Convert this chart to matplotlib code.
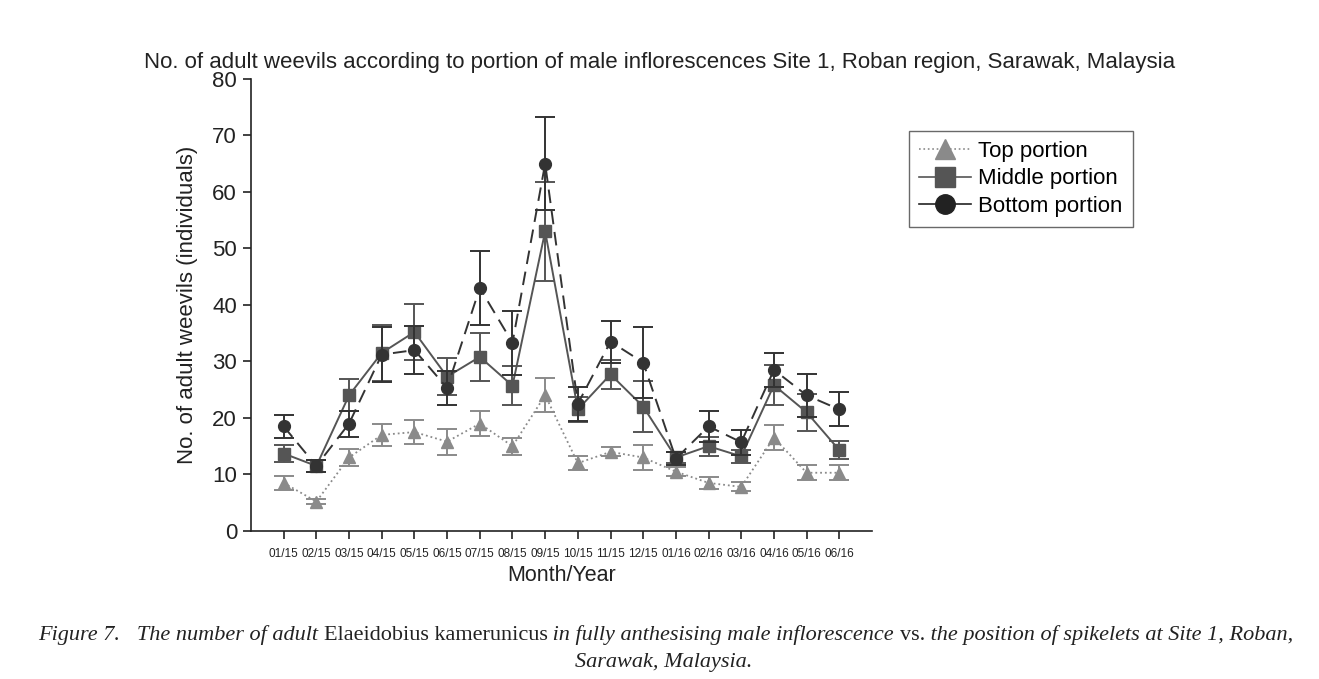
import numpy as np
import matplotlib
matplotlib.use("Agg")
from matplotlib import pyplot as plt
from matplotlib.lines import Line2D

months = ['01/15', '02/15', '03/15', '04/15', '05/15', '06/15', '07/15', '08/15', '09/15',
          '10/15', '11/15', '12/15', '01/16', '02/16', '03/16', '04/16', '05/16', '06/16']

top = [8.5, 5.2, 13.0, 17.0, 17.5, 15.8, 19.0, 15.0, 24.0, 12.0, 14.0, 13.0, 10.5, 8.5, 7.8, 16.5, 10.3, 10.3]
top_err = [1.2, 0.5, 1.5, 2.0, 2.2, 2.3, 2.2, 1.5, 3.0, 1.3, 0.8, 2.2, 0.8, 1.0, 0.8, 2.2, 1.3, 1.3]

middle = [13.7, 11.5, 24.0, 31.5, 35.2, 27.3, 30.8, 25.7, 53.0, 21.5, 27.7, 22.0, 13.0, 15.0, 13.2, 25.8, 21.0, 14.3]
middle_err = [1.5, 1.0, 2.8, 5.0, 5.0, 3.3, 4.2, 3.5, 8.8, 2.2, 2.5, 4.5, 1.0, 1.7, 1.2, 3.5, 3.3, 1.6]

bottom = [18.5, 11.5, 19.0, 31.2, 32.0, 25.3, 43.0, 33.3, 65.0, 22.5, 33.5, 29.8, 12.8, 18.5, 15.7, 28.5, 24.0, 21.5]
bottom_err = [2.0, 1.0, 2.3, 4.8, 4.2, 3.0, 6.5, 5.7, 8.3, 3.0, 3.7, 6.3, 1.2, 2.7, 2.2, 3.0, 3.8, 3.0]

c_top, c_mid, c_bot = '#8a8a8a', '#555555', '#333333'

plt.rcParams['font.family'] = ['Liberation Sans', 'DejaVu Sans']

fig = plt.figure(figsize=(13.19, 6.79), dpi=100)
ax = fig.add_axes([0.1903, 0.218, 0.4708, 0.666])

x = np.arange(len(months))
ax.errorbar(x, top, yerr=top_err, color=c_top, ls=':', lw=1.3, marker='^', ms=9,
            capsize=7, elinewidth=1.4, capthick=1.4, zorder=2)
ax.errorbar(x, middle, yerr=middle_err, color=c_mid, ls='-', lw=1.4, marker='s', ms=8,
            capsize=7, elinewidth=1.4, capthick=1.4, zorder=3)
ax.errorbar(x, bottom, yerr=bottom_err, color=c_bot, ls=(0, (7, 4)), lw=1.4, marker='o', ms=8.5,
            capsize=7, elinewidth=1.4, capthick=1.4, zorder=4)

ax.set_xlim(-1, 18)
ax.set_ylim(0, 80)
ax.set_yticks(range(0, 81, 10))
ax.set_xticks(x)
ax.set_xticklabels(months, fontsize=8.5)
ax.tick_params(axis='y', labelsize=16, length=6, width=1.2, colors='#222222', pad=4)
ax.tick_params(axis='x', length=6, width=1.2, colors='#222222', pad=6)
for s in ['top', 'right']:
    ax.spines[s].set_visible(False)
for s in ['left', 'bottom']:
    ax.spines[s].set_linewidth(1.2)
    ax.spines[s].set_color('#222222')

ax.set_xlabel('Month/Year', fontsize=15.5, color='#222222', labelpad=4)
ax.set_ylabel('No. of adult weevils (individuals)', fontsize=16, color='#222222', labelpad=10)

fig.text(0.5, 0.908, 'No. of adult weevils according to portion of male inflorescences Site 1, Roban region, Sarawak, Malaysia',
         ha='center', va='center', fontsize=16, color='#222222')

handles = [Line2D([], [], color=c_top, ls=':', lw=1.2, marker='^', ms=15),
           Line2D([], [], color=c_mid, ls='-', lw=1.2, marker='s', ms=14),
           Line2D([], [], color='#222222', ls='-', lw=1.2, marker='o', ms=14)]
leg = ax.legend(handles, ['Top portion', 'Middle portion', 'Bottom portion'],
                loc='upper left', bbox_to_anchor=(1.06, 0.885), fontsize=16, frameon=True,
                fancybox=False, edgecolor='#444444', handlelength=2.35, handletextpad=0.3,
                borderpad=0.45, labelspacing=0.3, borderaxespad=0)
leg.get_frame().set_linewidth(1.0)

# caption with mixed italic / upright pieces
pieces = [('Figure 7.   The number of adult ', 'italic'),
          ('Elaeidobius kamerunicus', 'normal'),
          (' in fully anthesising male inflorescence ', 'italic'),
          ('vs.', 'normal'),
          (' the position of spikelets at Site 1, Roban,', 'italic')]
texts = []
for s, st in pieces:
    t = fig.text(0, 0.0576, s, fontsize=16, family='Liberation Serif', style=st,
                 color='#222222', va='baseline')
    texts.append(t)
fig.canvas.draw()
r = fig.canvas.get_renderer()
widths = [t.get_window_extent(r).width for t in texts]
total = sum(widths)
xpos = (fig.bbox.width - total) / 2 + 6
for t, w in zip(texts, widths):
    t.set_x(xpos / fig.bbox.width)
    xpos += w
fig.text(0.503, 0.0176, 'Sarawak, Malaysia.', fontsize=16, family='Liberation Serif', style='italic',
         color='#222222', ha='center', va='baseline')

fig.savefig('out.png', dpi=100)
